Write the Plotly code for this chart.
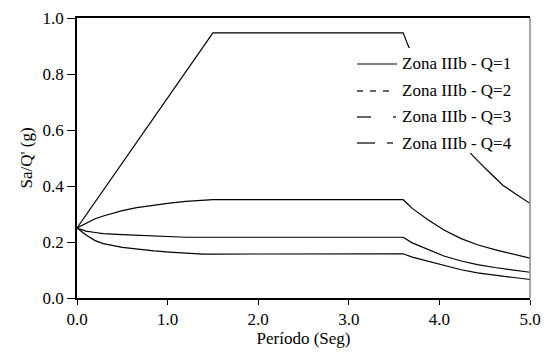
import plotly.graph_objects as go

# ---- data ----
T_q1 = [0.0, 1.5, 3.6, 3.65, 3.8, 4.0, 4.2, 4.35, 4.5, 4.7, 4.85, 5.0]
S_q1 = [0.25, 0.947, 0.947, 0.905, 0.80, 0.68, 0.58, 0.515, 0.465, 0.403, 0.37, 0.338]

T_q = [0.0, 0.05, 0.1, 0.2, 0.29, 0.5, 0.66, 0.85, 1.02, 1.2, 1.39, 1.5, 3.6,
       3.7, 3.87, 4.05, 4.24, 4.42, 4.61, 4.8, 5.0]
S_q2 = [0.25, 0.258, 0.268, 0.283, 0.293, 0.312, 0.323, 0.332, 0.339, 0.345, 0.350, 0.351, 0.351,
        0.32, 0.28, 0.243, 0.212, 0.19, 0.173, 0.157, 0.142]
S_q3 = [0.25, 0.244, 0.239, 0.234, 0.230, 0.226, 0.224, 0.221, 0.218, 0.217, 0.217, 0.217, 0.217,
        0.197, 0.173, 0.150, 0.132, 0.119, 0.109, 0.100, 0.092]
S_q4 = [0.25, 0.236, 0.225, 0.205, 0.194, 0.181, 0.174, 0.168, 0.164, 0.160, 0.157, 0.157, 0.158,
        0.146, 0.131, 0.115, 0.101, 0.090, 0.081, 0.074, 0.066]

legend_labels = ["Zona IIIb - Q=1", "Zona IIIb - Q=2", "Zona IIIb - Q=3", "Zona IIIb - Q=4"]
x_ticks = [0, 1, 2, 3, 4, 5]
y_ticks = [0.0, 0.2, 0.4, 0.6, 0.8, 1.0]

FONT = "'Liberation Serif', 'Times New Roman', 'DejaVu Serif', serif"
W, H = 548, 355
L, R, TOP, B = 77, 18, 18, 57
PW, PH = W - L - R, H - TOP - B

def px(xp):
    return (xp - L) / PW

def py(yp):
    return (H - B - yp) / PH

fig = go.Figure()
for xs, ys in [(T_q1, S_q1), (T_q, S_q2), (T_q, S_q3), (T_q, S_q4)]:
    fig.add_trace(go.Scatter(x=xs, y=ys, mode="lines",
                             line=dict(color="black", width=1.2),
                             showlegend=False, hoverinfo="skip"))

shapes = []
shapes.append(dict(type="rect", xref="paper", yref="paper",
                   x0=px(350), x1=px(521), y0=py(153), y1=py(48),
                   fillcolor="white", line=dict(width=0), layer="above"))
shapes.append(dict(type="line", xref="paper", yref="paper", x0=1, x1=1, y0=0, y1=1,
                   line=dict(color="#8a8a8a", width=1.5), layer="above"))

rows_y = [64, 91, 117, 143]
seg_sets = [
    [(357, 397)],
    [(357, 363), (370, 376), (383, 389)],
    [(357, 371), (393, 396)],
    [(357, 375), (387, 393)],
]
annotations = []
for yrow, segs, lab in zip(rows_y, seg_sets, legend_labels):
    for a, b in segs:
        shapes.append(dict(type="line", xref="paper", yref="paper",
                           x0=px(a), x1=px(b), y0=py(yrow), y1=py(yrow),
                           line=dict(color="black", width=1.2), layer="above"))
    annotations.append(dict(text=lab, xref="paper", yref="paper",
                            x=px(400), y=py(yrow), xanchor="left", yanchor="middle",
                            showarrow=False, font=dict(family=FONT, size=17, color="black")))

fig.update_layout(
    width=W, height=H,
    margin=dict(l=L, r=R, t=TOP, b=B, autoexpand=False),
    paper_bgcolor="white", plot_bgcolor="white",
    font=dict(family=FONT, size=17, color="black"),
    shapes=shapes, annotations=annotations,
    xaxis=dict(range=[0, 5], tickvals=x_ticks, tickformat=".1f", automargin=False,
               showgrid=False, zeroline=False, showline=True, linecolor="black",
               linewidth=1.5, mirror=True, ticks="outside", ticklen=5, tickwidth=1.2,
               tickcolor="black", tickfont=dict(family=FONT, size=17),
               title=dict(text="Período (Seg)", standoff=2, font=dict(family=FONT, size=17))),
    yaxis=dict(range=[0, 1], tickvals=y_ticks, tickformat=".1f", automargin=False,
               showgrid=False, zeroline=False, showline=True, linecolor="black",
               linewidth=1.5, mirror=False, ticks="outside", ticklen=8, tickwidth=1.2,
               tickcolor="black", tickfont=dict(family=FONT, size=17),
               title=dict(text="Sa/Q' (g)", standoff=6, font=dict(family=FONT, size=17))),
)

fig.write_html("out.html")
